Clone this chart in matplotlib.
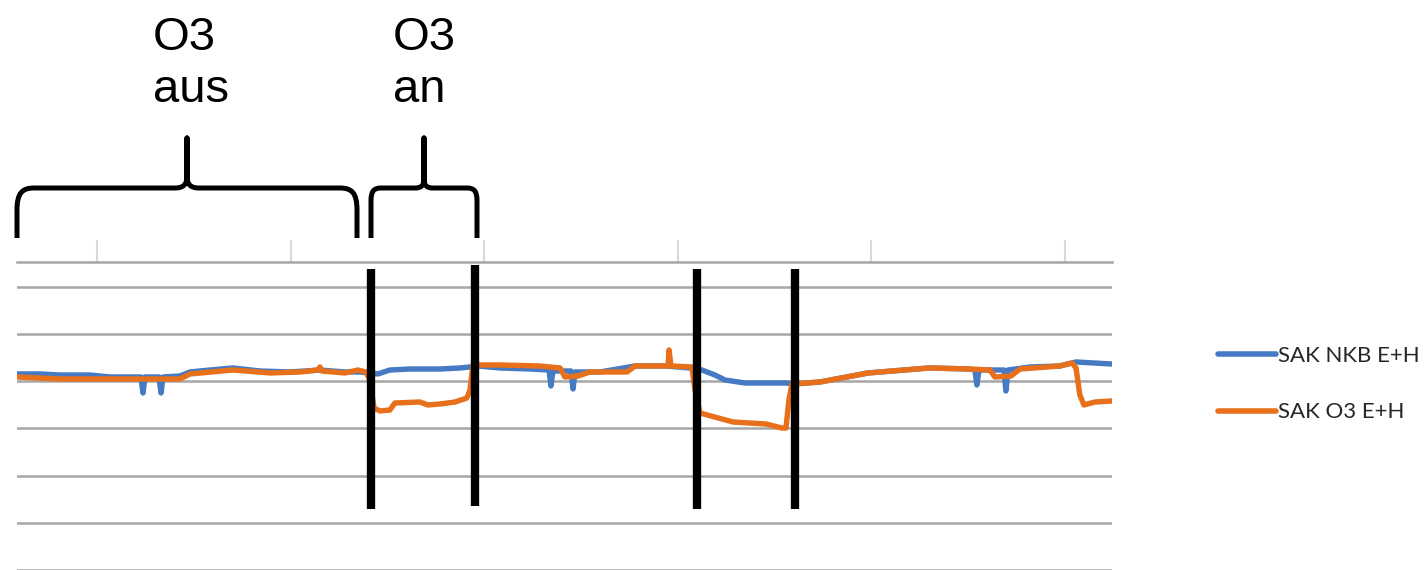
import numpy as np
import matplotlib
matplotlib.use("Agg")
import matplotlib.pyplot as plt
from matplotlib.path import Path
from matplotlib.patches import PathPatch

# SAK NKB E+H (blue)
t_nkb = [0.587, 0.706, 0.809, 0.964, 1.067, 1.196, 1.227, 1.238, 1.248, 1.320, 1.331, 1.341,
         1.429, 1.480, 1.584, 1.702, 1.842, 1.997, 2.152, 2.281, 2.358, 2.410, 2.451, 2.513,
         2.617, 2.772, 2.875, 2.927, 2.968, 3.082, 3.237, 3.335, 3.345, 3.355, 3.448, 3.459,
         3.469, 3.598, 3.779, 3.939, 4.063, 4.125, 4.192, 4.244, 4.347, 4.476, 4.559, 4.605,
         4.735, 4.983, 5.298, 5.509, 5.535, 5.545, 5.556, 5.685, 5.695, 5.706, 5.819, 5.974,
         6.057, 6.243]
sak_nkb = [4.153, 4.153, 4.131, 4.131, 4.089, 4.089, 4.089, 3.750, 4.089, 4.089, 3.750, 4.089,
           4.110, 4.195, 4.237, 4.280, 4.216, 4.195, 4.237, 4.195, 4.195, 4.174, 4.153, 4.237,
           4.258, 4.258, 4.280, 4.301, 4.322, 4.280, 4.258, 4.237, 3.898, 4.216, 4.216, 3.835,
           4.195, 4.195, 4.322, 4.322, 4.280, 4.237, 4.131, 4.025, 3.962, 3.962, 3.962, 3.941,
           3.983, 4.174, 4.280, 4.258, 4.237, 3.919, 4.237, 4.237, 3.792, 4.237, 4.301, 4.322,
           4.407, 4.364]

# SAK O3 E+H (orange)
t_o3 = [0.587, 0.809, 0.964, 1.067, 1.429, 1.480, 1.702, 1.894, 2.049, 2.142, 2.152, 2.162,
        2.281, 2.348, 2.389, 2.410, 2.431, 2.462, 2.513, 2.539, 2.668, 2.710, 2.772, 2.849,
        2.911, 2.927, 2.942, 3.082, 3.288, 3.392, 3.417, 3.485, 3.546, 3.738, 3.779, 3.939,
        3.950, 3.955, 3.965, 4.073, 4.089, 4.115, 4.285, 4.456, 4.538, 4.559, 4.574, 4.590,
        4.735, 4.983, 5.298, 5.509, 5.613, 5.638, 5.721, 5.768, 5.974, 6.036, 6.057, 6.077,
        6.098, 6.155, 6.243]
sak_o3 = [4.089, 4.047, 4.047, 4.047, 4.047, 4.153, 4.237, 4.174, 4.195, 4.237, 4.301, 4.216,
          4.174, 4.237, 4.195, 4.025, 3.432, 3.369, 3.390, 3.538, 3.559, 3.496, 3.517, 3.559,
          3.644, 3.814, 4.343, 4.343, 4.322, 4.280, 4.089, 4.110, 4.195, 4.195, 4.322, 4.322,
          4.322, 4.661, 4.322, 4.301, 3.814, 3.326, 3.136, 3.093, 3.008, 3.008, 3.602, 3.941,
          3.983, 4.174, 4.280, 4.258, 4.237, 4.089, 4.110, 4.258, 4.322, 4.386, 4.280, 3.708,
          3.496, 3.559, 3.581]

# markers for the O3 switching times
switch_t = [2.415, 2.952, 4.099, 4.605]
switch_lo = [1.292, 1.356, 1.292, 1.292]
switch_hi = [6.377, 6.462, 6.377, 6.377]

blue = "#467bc4"
orange = "#e8701a"
grid_c = "#a6a6a6"

fig = plt.figure(figsize=(14.25, 5.7), dpi=100)
ax = fig.add_axes([17 / 1425, 0, 1095 / 1425, 308 / 570])

l1, = ax.plot(t_nkb, sak_nkb, color=blue, lw=3.9, solid_joinstyle="round", solid_capstyle="round",
              label="SAK NKB E+H", zorder=3)
l2, = ax.plot(t_o3, sak_o3, color=orange, lw=3.9, solid_joinstyle="round", solid_capstyle="round",
              label="SAK O3 E+H", zorder=4)

for i in range(len(switch_t)):
    ax.vlines(switch_t[i], switch_lo[i], switch_hi[i], color="black", lw=6, zorder=5)

ax.set_xlim(0.587, 6.243)
ax.set_ylim(0, 6.525)
ax.set_yticks(range(0, 7))
ax.set_xticks(range(1, 7))
ax.xaxis.tick_top()
ax.tick_params(axis="x", direction="out", length=16, width=1.5, color="#d9d9d9", labeltop=False)
ax.tick_params(axis="y", length=0, labelleft=False)
ax.grid(axis="y", color=grid_c, lw=1.8)
ax.set_axisbelow(True)
for s in ["left", "right", "bottom"]:
    ax.spines[s].set_visible(False)
ax.spines["top"].set_color(grid_c)
ax.spines["top"].set_linewidth(1.8)
ax.patch.set_alpha(0)

leg = fig.legend(handles=[l1, l2], loc="center left", bbox_to_anchor=(1218 / 1425, 1 - 384 / 570),
                 frameon=False, prop={"family": "Lato", "size": 16}, handlelength=2.6,
                 handletextpad=0.12, labelspacing=1.66, borderpad=0, borderaxespad=0)
for h in leg.legend_handles:
    h.set_linewidth(4)
for txt in leg.get_texts():
    txt.set_color("#262626")

# overlay in pixel coordinates for the braces
ov = fig.add_axes([0, 0, 1, 1])
ov.set_xlim(0, 1425)
ov.set_ylim(570, 0)
ov.axis("off")


def brace(x0, x1, xt, re, rt, ybot=238, yh=188, ytip=138):
    verts = [(x0, ybot), (x0, yh + re * 1.3),
             (x0, yh + re * 0.3), (x0 + re * 0.3, yh), (x0 + re, yh),
             (xt - rt, yh),
             (xt - rt * 0.3, yh), (xt, yh - rt * 0.3), (xt, yh - rt),
             (xt, ytip),
             (xt, yh - rt),
             (xt, yh - rt * 0.3), (xt + rt * 0.3, yh), (xt + rt, yh),
             (x1 - re, yh),
             (x1 - re * 0.3, yh), (x1, yh + re * 0.3), (x1, yh + re * 1.3),
             (x1, ybot)]
    codes = [Path.MOVETO, Path.LINETO,
             Path.CURVE4, Path.CURVE4, Path.CURVE4,
             Path.LINETO,
             Path.CURVE4, Path.CURVE4, Path.CURVE4,
             Path.LINETO,
             Path.LINETO,
             Path.CURVE4, Path.CURVE4, Path.CURVE4,
             Path.LINETO,
             Path.CURVE4, Path.CURVE4, Path.CURVE4,
             Path.LINETO]
    ov.add_patch(PathPatch(Path(verts, codes), fill=False, lw=3.6, ec="black",
                           joinstyle="round", capstyle="butt"))


brace(17, 357, 187, 17, 12)
brace(371, 477, 424, 10, 9)

fig.text(153 / 1425, 1 - 50 / 570, "O3", family="Liberation Sans", size=34, va="baseline", ha="left")
fig.text(153 / 1425, 1 - 102 / 570, "aus", family="Liberation Sans", size=34, va="baseline", ha="left")
fig.text(393 / 1425, 1 - 50 / 570, "O3", family="Liberation Sans", size=34, va="baseline", ha="left")
fig.text(393 / 1425, 1 - 102 / 570, "an", family="Liberation Sans", size=34, va="baseline", ha="left")

fig.savefig("out.png", dpi=100)
